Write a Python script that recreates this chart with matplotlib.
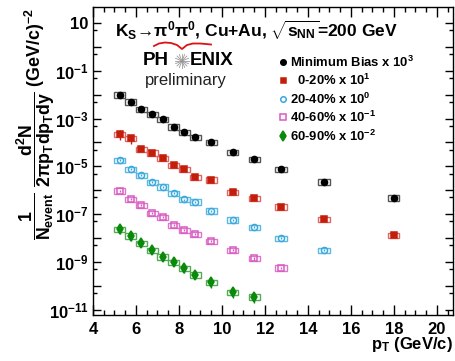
import numpy as np
import matplotlib.pyplot as plt
from matplotlib.ticker import FixedLocator, NullFormatter, FuncFormatter
from matplotlib.patches import Rectangle

plt.rcParams['font.family'] = ['Liberation Sans', 'DejaVu Sans']
plt.rcParams['font.weight'] = 'bold'
plt.rcParams['mathtext.fontset'] = 'custom'
plt.rcParams['mathtext.bf'] = 'Liberation Sans:bold'
plt.rcParams['mathtext.rm'] = 'Liberation Sans:bold'
plt.rcParams['mathtext.it'] = 'Liberation Sans:bold'
plt.rcParams['mathtext.default'] = 'bf'

# pT bin centres (GeV/c)
pt = [5.25, 5.75, 6.25, 6.75, 7.25, 7.75, 8.25, 8.75, 9.5, 10.5, 11.5, 12.75, 14.75, 18.0]

# invariant yields per centrality class (unscaled)
y_mb = [1.0e-5, 5.1e-6, 2.45e-6, 1.55e-6, 9.5e-7, 4.6e-7, 2.75e-7, 1.66e-7,
        1.05e-7, 3.9e-8, 2.0e-8, 7.8e-9, 2.3e-9, 4.9e-10]
y_0020 = [2.2e-5, 1.5e-5, 5.25e-6, 3.7e-6, 2.2e-6, 1.15e-6, 7.6e-7, 3.5e-7,
          2.75e-7, 8.5e-8, 4.8e-8, 2.05e-8, 6.2e-9, 1.35e-9]
y_2040 = [1.8e-5, 7.6e-6, 4.4e-6, 2.15e-6, 1.4e-6, 7.8e-7, 4.1e-7, 3.3e-7,
          1.4e-7, 5.8e-8, 2.9e-8, 9.8e-9, 3.2e-9]
y_4060 = [9.5e-6, 4.2e-6, 2.35e-6, 1.1e-6, 7.6e-7, 3.5e-7, 2.2e-7, 1.5e-7,
          7.6e-8, 3.1e-8, 1.4e-8, 5.8e-9]
y_6090 = [2.4e-6, 1.25e-6, 6.2e-7, 3.2e-7, 1.65e-7, 9.8e-8, 5.5e-8, 2.9e-8,
          1.4e-8, 5.4e-9, 3.5e-9]

# relative statistical errors
stat_mb = [0.05] * 14
stat_0020 = [0.45, 0.4, 0.15, 0.1, 0.1, 0.1, 0.1, 0.1, 0.1, 0.1, 0.1, 0.1, 0.1, 0.1]
stat_2040 = [0.1] * 13
stat_4060 = [0.1] * 12
stat_6090 = [0.4, 0.4, 0.35, 0.3, 0.3, 0.3, 0.35, 0.35, 0.4, 0.45, 0.45]

sys_rel = 0.25       # systematic uncertainty (boxes)
box_hw = 0.26        # half width of systematic boxes in pT

scales = [1e3, 1e1, 1e0, 1e-1, 1e-2]
labels = [r'Minimum Bias x 10$^{3}$', r'  0-20% x 10$^{1}$', r'20-40% x 10$^{0}$',
          r'40-60% x 10$^{-1}$', r'60-90% x 10$^{-2}$']

series = [
    dict(y=y_mb, stat=stat_mb, color='black', box='#555555', marker='o', ms=4.4, mfc='black'),
    dict(y=y_0020, stat=stat_0020, color='#c41e0a', box='#e06666', marker='s', ms=4.0, mfc='#c41e0a'),
    dict(y=y_2040, stat=stat_2040, color='#3aa8dc', box='#5cb8e0', marker='o', ms=4.4, mfc='none'),
    dict(y=y_4060, stat=stat_4060, color='#d95bc0', box='#dd77cc', marker='s', ms=4.4, mfc='none'),
    dict(y=y_6090, stat=stat_6090, color='#0a8a0a', box='#55aa55', marker='d', ms=5.6, mfc='#0a8a0a'),
]

fig = plt.figure(figsize=(4.55, 3.61), dpi=100)
ax = fig.add_axes([93 / 455, 46 / 361, 360 / 455, 308 / 361])

for s, sc in zip(series, scales):
    n = len(s['y'])
    x = np.array(pt[:n])
    y = np.array(s['y']) * sc
    st = np.array(s['stat'])
    for xi, yi in zip(x, y):
        ax.add_patch(Rectangle((xi - box_hw, yi * (1 - sys_rel)), 2 * box_hw,
                               yi * 2 * sys_rel, fill=False, edgecolor=s['box'], lw=1.0))
    ax.errorbar(x, y, yerr=y * st, fmt='none', ecolor=s['color'], elinewidth=1.0, capsize=0)
    ax.plot(x, y, ls='none', marker=s['marker'], ms=s['ms'], color=s['color'],
            mfc=s['mfc'], mec=s['color'], mew=1.1)

ax.set_yscale('log')
ax.set_xlim(4, 20.75)
ax.set_ylim(6.0e-12, 46.8)

# ticks on all four sides, pointing inward
ax.xaxis.set_major_locator(FixedLocator(np.arange(4, 21, 2)))
ax.xaxis.set_minor_locator(FixedLocator(np.arange(4, 21, 0.5)))
ax.yaxis.set_major_locator(FixedLocator([10.0 ** e for e in range(-11, 2)]))
ax.yaxis.set_minor_locator(FixedLocator([5 * 10.0 ** e for e in range(-12, 2)]))
ax.yaxis.set_minor_formatter(NullFormatter())


def ylab(v, pos):
    e = int(round(np.log10(v)))
    if e % 2 == 0:
        return ''
    if e == 1:
        return '10'
    return r'$10^{%d}$' % e


ax.yaxis.set_major_formatter(FuncFormatter(ylab))
ax.tick_params(which='both', direction='in', top=True, right=True, colors='black')
ax.tick_params(axis='x', which='major', length=7, width=1, labelsize=12, pad=5)
ax.tick_params(axis='x', which='minor', length=3.5, width=1)
ax.tick_params(axis='y', which='major', length=6, width=1, labelsize=12, pad=3)
ax.tick_params(axis='y', which='minor', length=3, width=1)
for sp in ax.spines.values():
    sp.set_linewidth(1.0)

# axis titles
fig.text(453 / 455, 1 - 345 / 361, r'p$_{T}$ (GeV/c)', ha='right', va='center', fontsize=12)
fig.text(36 / 455, 1 - 8 / 361,
         r'$\dfrac{1}{N_{event}}\ \dfrac{d^{2}N}{2\pi p_{T} dp_{T} dy}$ (GeV/c)$^{-2}$',
         rotation=90, ha='center', va='top', fontsize=12.8)

# system label
ax.text(0.06, 0.925, r'K$_{S}$→$\pi^{0}\pi^{0}$, Cu+Au, $\sqrt{s_{NN}}$=200 GeV',
        transform=ax.transAxes, ha='left', va='center', fontsize=12.5)

# legend
leg_y = [0.821, 0.763, 0.701, 0.643, 0.581]
for s, lab, ly in zip(series, labels, leg_y):
    ax.plot([0.528], [ly], transform=ax.transAxes, ls='none', marker=s['marker'],
            ms=s['ms'] * 0.9, color=s['color'], mfc=s['mfc'], mec=s['color'], mew=1.1,
            clip_on=False)
    ax.text(0.547, ly, lab, transform=ax.transAxes, ha='left', va='center', fontsize=9.4)

# PHENIX preliminary logo
ax.text(0.139, 0.825, 'PH', transform=ax.transAxes, ha='left', va='center', fontsize=13.5)
ax.text(0.269, 0.825, 'ENIX', transform=ax.transAxes, ha='left', va='center', fontsize=13.5)
cx, cy = 182 / 455, 1 - 61 / 361
for a in np.linspace(0, np.pi, 9)[:-1]:
    dx, dy = 7 * np.cos(a) / 455, 7 * np.sin(a) / 361
    fig.add_artist(plt.Line2D([cx - dx, cx + dx], [cy - dy, cy + dy], color='#999999', lw=0.6))
arc_x = np.array([154, 159, 165, 171, 177, 182, 187, 193, 200, 206, 211]) / 455
arc_y = 1 - np.array([46, 43.5, 42.5, 43, 45, 49, 45, 43.5, 43.5, 44, 44.5]) / 361
fig.add_artist(plt.Line2D(arc_x, arc_y, color='#dd1111', lw=1.3))
ax.text(0.145, 0.762, 'preliminary', transform=ax.transAxes, ha='left', va='center',
        fontsize=12, fontweight='normal', color='#222222')

fig.savefig('out.png', dpi=100)
